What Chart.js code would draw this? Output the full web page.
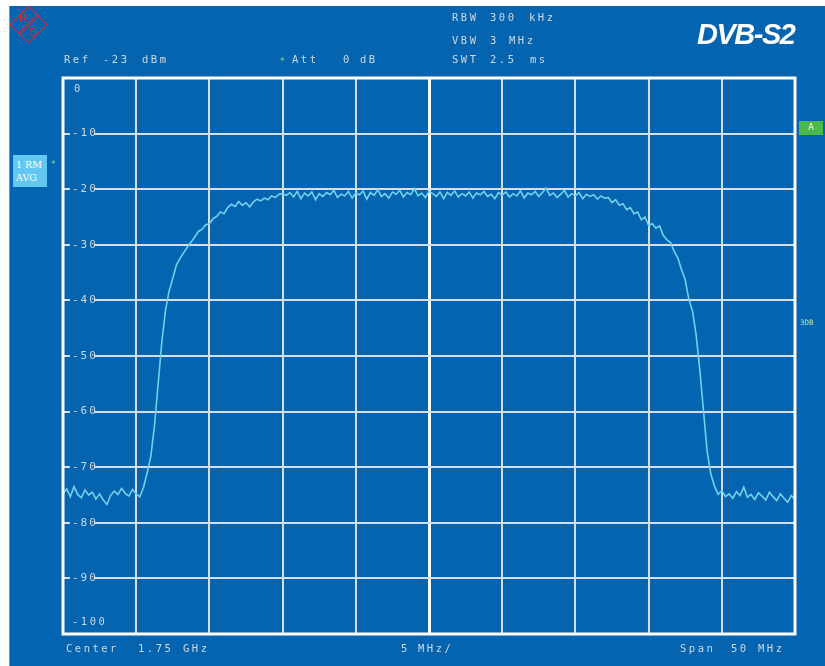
<!DOCTYPE html>
<html>
<head>
<meta charset="utf-8">
<script src="https://cdn.jsdelivr.net/npm/chart.js@4.4.0/dist/chart.umd.min.js"></script>
<style>
  html, body { margin: 0; padding: 0; background: #fff; }
  body { width: 825px; height: 666px; position: relative; overflow: hidden; }
  #screen { position: absolute; left: 10px; top: 6px; width: 815px; height: 660px; background: #0564b0; box-shadow: -1px 0 0 #5d9ad0; }
  #plot { position: absolute; left: 0; top: 0; }
  .t { position: absolute; font-family: "DejaVu Sans Mono", monospace; font-size: 10.5px; letter-spacing: 2.5px; color: #cfd8e2; line-height: 12px; white-space: pre; }
  .star { position: absolute; font-family: "DejaVu Sans", sans-serif; font-size: 9px; color: #8fd67a; line-height: 10px; }
  #title { position: absolute; left: 697px; top: 17px; font-family: "Liberation Sans", Arial, sans-serif; font-weight: bold; font-style: italic; font-size: 29px; letter-spacing: -1.5px; color: #fff; line-height: 34px; }
  #trace { position: absolute; left: 13px; top: 155px; width: 34px; height: 32px; background: #62c8f2; color: #fff; font-family: "DejaVu Serif", serif; font-size: 9.5px; line-height: 13px; padding-top: 3px; box-sizing: border-box; padding-left: 3px; }
  #flag { position: absolute; left: 799px; top: 121px; width: 24px; height: 14px; background: #4cb848; color: #fff; font-family: "DejaVu Sans", sans-serif; font-size: 8px; line-height: 14px; text-align: center; }
  #side { position: absolute; left: 800px; top: 318px; font-family: "DejaVu Sans Mono", monospace; font-size: 7.5px; color: #b9e3a2; line-height: 10px; }
  #logo { position: absolute; left: 15px; top: 11px; width: 27px; height: 27px; border: 1.4px solid #e3262f; transform: rotate(45deg); box-sizing: border-box; }
  #logo .bar { position: absolute; left: 11px; top: -1px; width: 3px; height: 27px; border-left: 1px solid #e3262f; border-right: 1px solid #e3262f; box-sizing: border-box; }
  .lg { position: absolute; font-family: "Liberation Sans", Arial, sans-serif; font-size: 12px; color: #e3262f; line-height: 12px; }
</style>
</head>
<body>
<div id="screen"></div>
<canvas id="plot" width="825" height="666"></canvas>

<div id="logo"><div class="bar"></div></div>
<div class="lg" style="left:19px;top:12px;">R</div>
<div class="lg" style="left:29px;top:26px;">S</div>

<div id="title">DVB-S2</div>

<div class="t" style="left:64px;top:53px;">Ref</div>
<div class="t" style="left:103px;top:53px;">-23</div>
<div class="t" style="left:142px;top:53px;">dBm</div>
<div class="star" style="left:280px;top:56px;">*</div>
<div class="t" style="left:292px;top:53px;">Att</div>
<div class="t" style="left:343px;top:53px;">0</div>
<div class="t" style="left:360px;top:53px;">dB</div>

<div class="t" style="left:452px;top:11px;">RBW</div>
<div class="t" style="left:490px;top:11px;">300</div>
<div class="t" style="left:529px;top:11px;">kHz</div>
<div class="t" style="left:452px;top:34px;">VBW</div>
<div class="t" style="left:490px;top:34px;">3</div>
<div class="t" style="left:509px;top:34px;">MHz</div>
<div class="t" style="left:452px;top:53px;">SWT</div>
<div class="t" style="left:490px;top:53px;">2.5</div>
<div class="t" style="left:530px;top:53px;">ms</div>

<div class="t" style="left:74px;top:82px;">0</div>
<div class="t" style="left:72px;top:615px;">-100</div>

<div class="t" style="left:66px;top:642px;">Center</div>
<div class="t" style="left:138px;top:642px;">1.75</div>
<div class="t" style="left:183px;top:642px;">GHz</div>
<div class="t" style="left:401px;top:642px;">5</div>
<div class="t" style="left:418px;top:642px;">MHz/</div>
<div class="t" style="left:680px;top:642px;">Span</div>
<div class="t" style="left:731px;top:642px;">50</div>
<div class="t" style="left:758px;top:642px;">MHz</div>

<div id="trace">1 RM<br>AVG</div>
<div class="star" style="left:51px;top:159px;">*</div>
<div id="flag">A</div>
<div id="side">3DB</div>

<script>
// sweep: offset from 1.75 GHz centre, MHz
const sweepStart = -25;
const sweepStep = 0.25;

// level in dBm per sweep point (201 points)
const levelFloorLeft = [
  -74.8, -73.9, -75.3, -73.5, -74.9, -75.5, -74.1, -75.0, -74.5, -75.7,
  -74.8, -75.9, -76.7, -75.1, -74.3, -74.9, -73.8, -74.7, -75.2, -74.0,
  -74.8, -75.3, -73.6
];
const levelRise = [
  -71.0, -68.0, -62.5, -55.0, -47.5, -41.8, -38.3, -36.0, -33.6, -32.4,
  -31.4, -30.4, -29.5, -28.6, -27.6, -27.2, -26.4, -26.2, -25.3, -24.9,
  -24.1, -24.4, -23.3, -22.7, -23.1, -22.2, -22.9, -22.4, -23.2, -22.3,
  -21.8, -22.1, -21.6, -21.9, -21.2, -21.5, -20.9, -20.8
];
const levelTop = [
  -21.1, -20.6, -21.4, -20.4, -21.7, -20.7, -21.2, -20.5, -21.9, -20.8,
  -21.3, -20.6, -21.0, -20.2, -21.5, -20.9, -21.2, -20.4, -21.6, -20.7,
  -21.0, -20.3, -21.8, -20.6, -21.1, -20.1, -21.3, -20.8, -21.6, -20.5,
  -20.9, -20.2, -21.4, -20.6, -21.0, -19.9, -21.2, -20.7, -21.5, -20.4,
  -20.8, -21.3, -20.5, -21.7, -20.6, -21.1, -20.3, -21.4, -20.8, -21.2,
  -20.5, -21.6, -20.7, -21.0, -20.4, -21.3, -20.9, -21.7, -20.6, -21.1,
  -20.5, -21.4, -20.8, -21.2, -20.3, -21.6, -20.7, -21.0, -20.4, -21.3,
  -20.6, -19.8, -21.1, -20.7, -21.5, -20.9, -20.2, -21.4, -20.8, -21.2,
  -20.6, -21.7, -20.9, -21.3, -21.0, -21.8, -21.2, -21.6, -21.5
];
const levelFall = [
  -22.4, -21.9, -22.9, -22.6, -23.7, -23.3, -24.4, -24.1, -25.5, -25.0,
  -26.5, -26.2, -27.0, -26.6, -28.3, -29.1, -29.6, -31.2, -32.4, -34.5,
  -36.3, -39.8, -41.9, -46.3, -52.6, -59.9, -67.2, -71.2, -73.4, -74.9
];
const levelFloorRight = [
  -74.2, -75.3, -74.8, -75.6, -74.4, -75.1, -73.6, -75.4, -74.9, -75.8,
  -74.6, -75.2, -75.9, -74.5, -75.3, -76.0, -74.8, -75.6, -76.3, -75.1,
  -75.8
];

// y ticks, dB
const yTicksMin = -100;
const yTicksMax = 0;

const BLUE = '#0564b0';
const GRID = '#d6dfe9';

const levels = [].concat(levelFloorLeft, levelRise, levelTop, levelFall, levelFloorRight);
const points = levels.map((v, i) => ({ x: sweepStart + i * sweepStep, y: v }));

const framePlugin = {
  id: 'frame',
  beforeDraw(chart) {
    chart.ctx.letterSpacing = '2px';
  },
  afterDraw(chart) {
    const { ctx, chartArea: a } = chart;
    ctx.save();
    ctx.strokeStyle = '#ffffff';
    ctx.lineWidth = 3;
    ctx.strokeRect(a.left, a.top, a.right - a.left, a.bottom - a.top);
    ctx.restore();
  }
};

new Chart(document.getElementById('plot'), {
  type: 'line',
  data: {
    datasets: [{
      data: points,
      borderColor: '#72d2ec',
      borderWidth: 1.6,
      pointRadius: 0,
      tension: 0,
      fill: false
    }]
  },
  options: {
    responsive: false,
    animation: false,
    layout: { padding: { left: 63, top: 78, right: 30, bottom: 32 } },
    plugins: { legend: { display: false }, tooltip: { enabled: false } },
    scales: {
      x: {
        type: 'linear',
        min: -25,
        max: 25,
        ticks: { display: false, stepSize: 5 },
        border: { display: false },
        grid: {
          drawTicks: false,
          color: (c) => c.tick && c.tick.value === 0 ? '#ffffff' : GRID,
          lineWidth: (c) => c.tick && c.tick.value === 0 ? 3 : 2
        }
      },
      y: {
        min: yTicksMin,
        max: yTicksMax,
        border: { display: false },
        grid: { drawTicks: false, color: GRID, lineWidth: 2 },
        afterFit: (scale) => { scale.width = 0; },
        ticks: {
          stepSize: 10,
          mirror: true,
          padding: 9,
          color: '#cfd8e2',
          font: { family: 'DejaVu Sans Mono', size: 11 },
          showLabelBackdrop: true,
          backdropColor: BLUE,
          backdropPadding: { left: 2, right: 2, top: 0, bottom: 0 },
          callback: (v) => (v === 0 || v === -100) ? '' : String(v)
        }
      }
    }
  },
  plugins: [framePlugin]
});
</script>
</body>
</html>
